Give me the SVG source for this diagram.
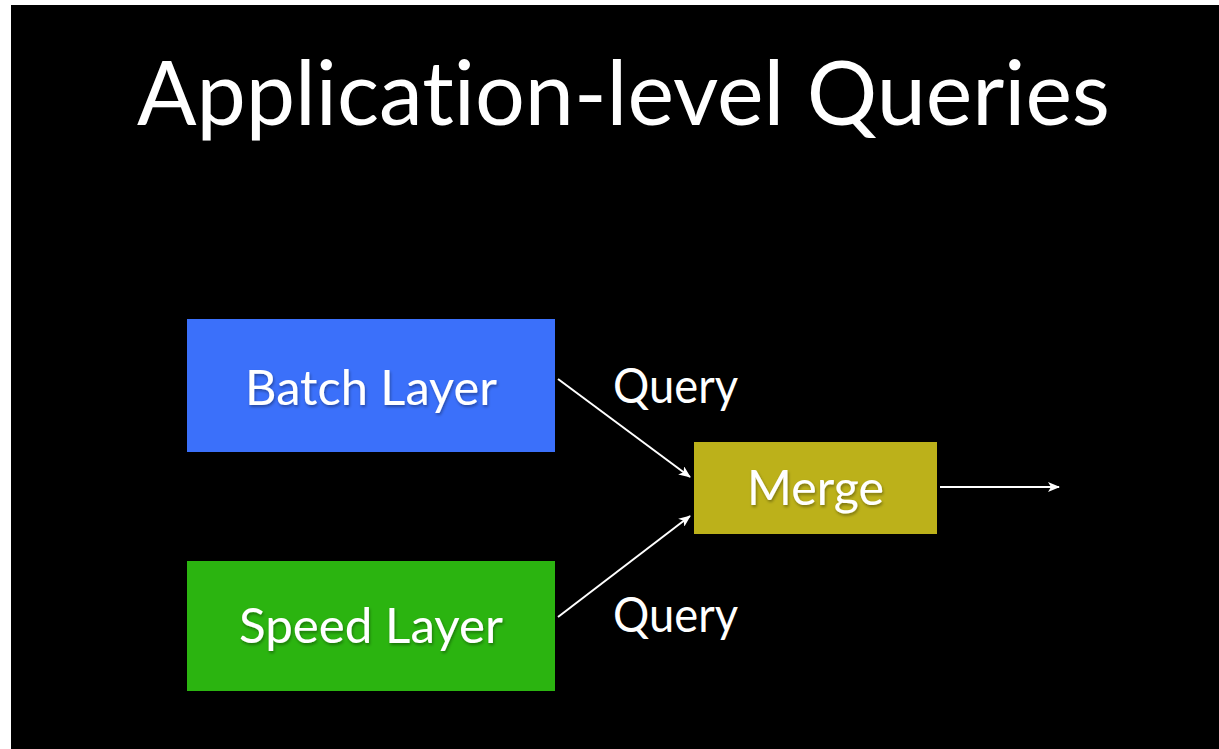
<svg xmlns="http://www.w3.org/2000/svg" width="1219" height="749" viewBox="0 0 1219 749">
  <style>
    text { font-variant-ligatures: none; font-feature-settings: "liga" 0, "clig" 0; }
    .title { font-family: "Lato", "Open Sans", "Liberation Sans", sans-serif; fill: #ffffff; font-size: 90px; }
    .label { font-family: "Lato", "Open Sans", "Liberation Sans", sans-serif; fill: #ffffff; font-size: 48px; }
    .boxtext { font-family: "Lato", "Open Sans", "Liberation Sans", sans-serif; fill: #ffffff; font-size: 48px; filter: url(#shadow); }
    .conn { stroke: #ffffff; stroke-width: 2; fill: none; marker-end: url(#head); }
  </style>
  <defs>
    <marker id="head" viewBox="0 0 12 10" refX="11" refY="5" markerWidth="12" markerHeight="10" markerUnits="userSpaceOnUse" orient="auto">
      <path d="M0,0 L12,5 L0,10 L3,5 Z" fill="#ffffff"/>
    </marker>
    <filter id="shadow" x="-10%" y="-20%" width="120%" height="150%">
      <feDropShadow dx="1" dy="2" stdDeviation="1.5" flood-color="#000000" flood-opacity="0.35"/>
    </filter>
  </defs>

  <!-- page and slide background -->
  <rect x="0" y="0" width="1219" height="749" fill="#ffffff"/>
  <rect x="11" y="5" width="1208" height="744" fill="#000000"/>

  <text class="title" x="137" y="125" textLength="973" lengthAdjust="spacingAndGlyphs">Application-level Queries</text>

  <g id="batch-layer">
    <rect x="187" y="319" width="368" height="133" fill="#3b70fa"/>
    <text class="boxtext" x="245" y="405" textLength="252" lengthAdjust="spacingAndGlyphs">Batch Layer</text>
  </g>

  <g id="speed-layer">
    <rect x="187" y="561" width="368" height="130" fill="#2bb410"/>
    <text class="boxtext" x="239" y="643" textLength="264" lengthAdjust="spacingAndGlyphs">Speed Layer</text>
  </g>

  <g id="merge">
    <rect x="694" y="442" width="243" height="92" fill="#bcb11a"/>
    <text class="boxtext" x="747" y="505" textLength="137" lengthAdjust="spacingAndGlyphs">Merge</text>
  </g>

  <g id="connectors">
    <line class="conn" x1="558" y1="379" x2="690" y2="477"/>
    <line class="conn" x1="558" y1="617" x2="690" y2="516"/>
    <line class="conn" x1="940" y1="487" x2="1059" y2="487"/>
    <text class="label" x="613" y="403" textLength="125" lengthAdjust="spacingAndGlyphs">Query</text>
    <text class="label" x="613" y="632" textLength="125" lengthAdjust="spacingAndGlyphs">Query</text>
  </g>
</svg>
